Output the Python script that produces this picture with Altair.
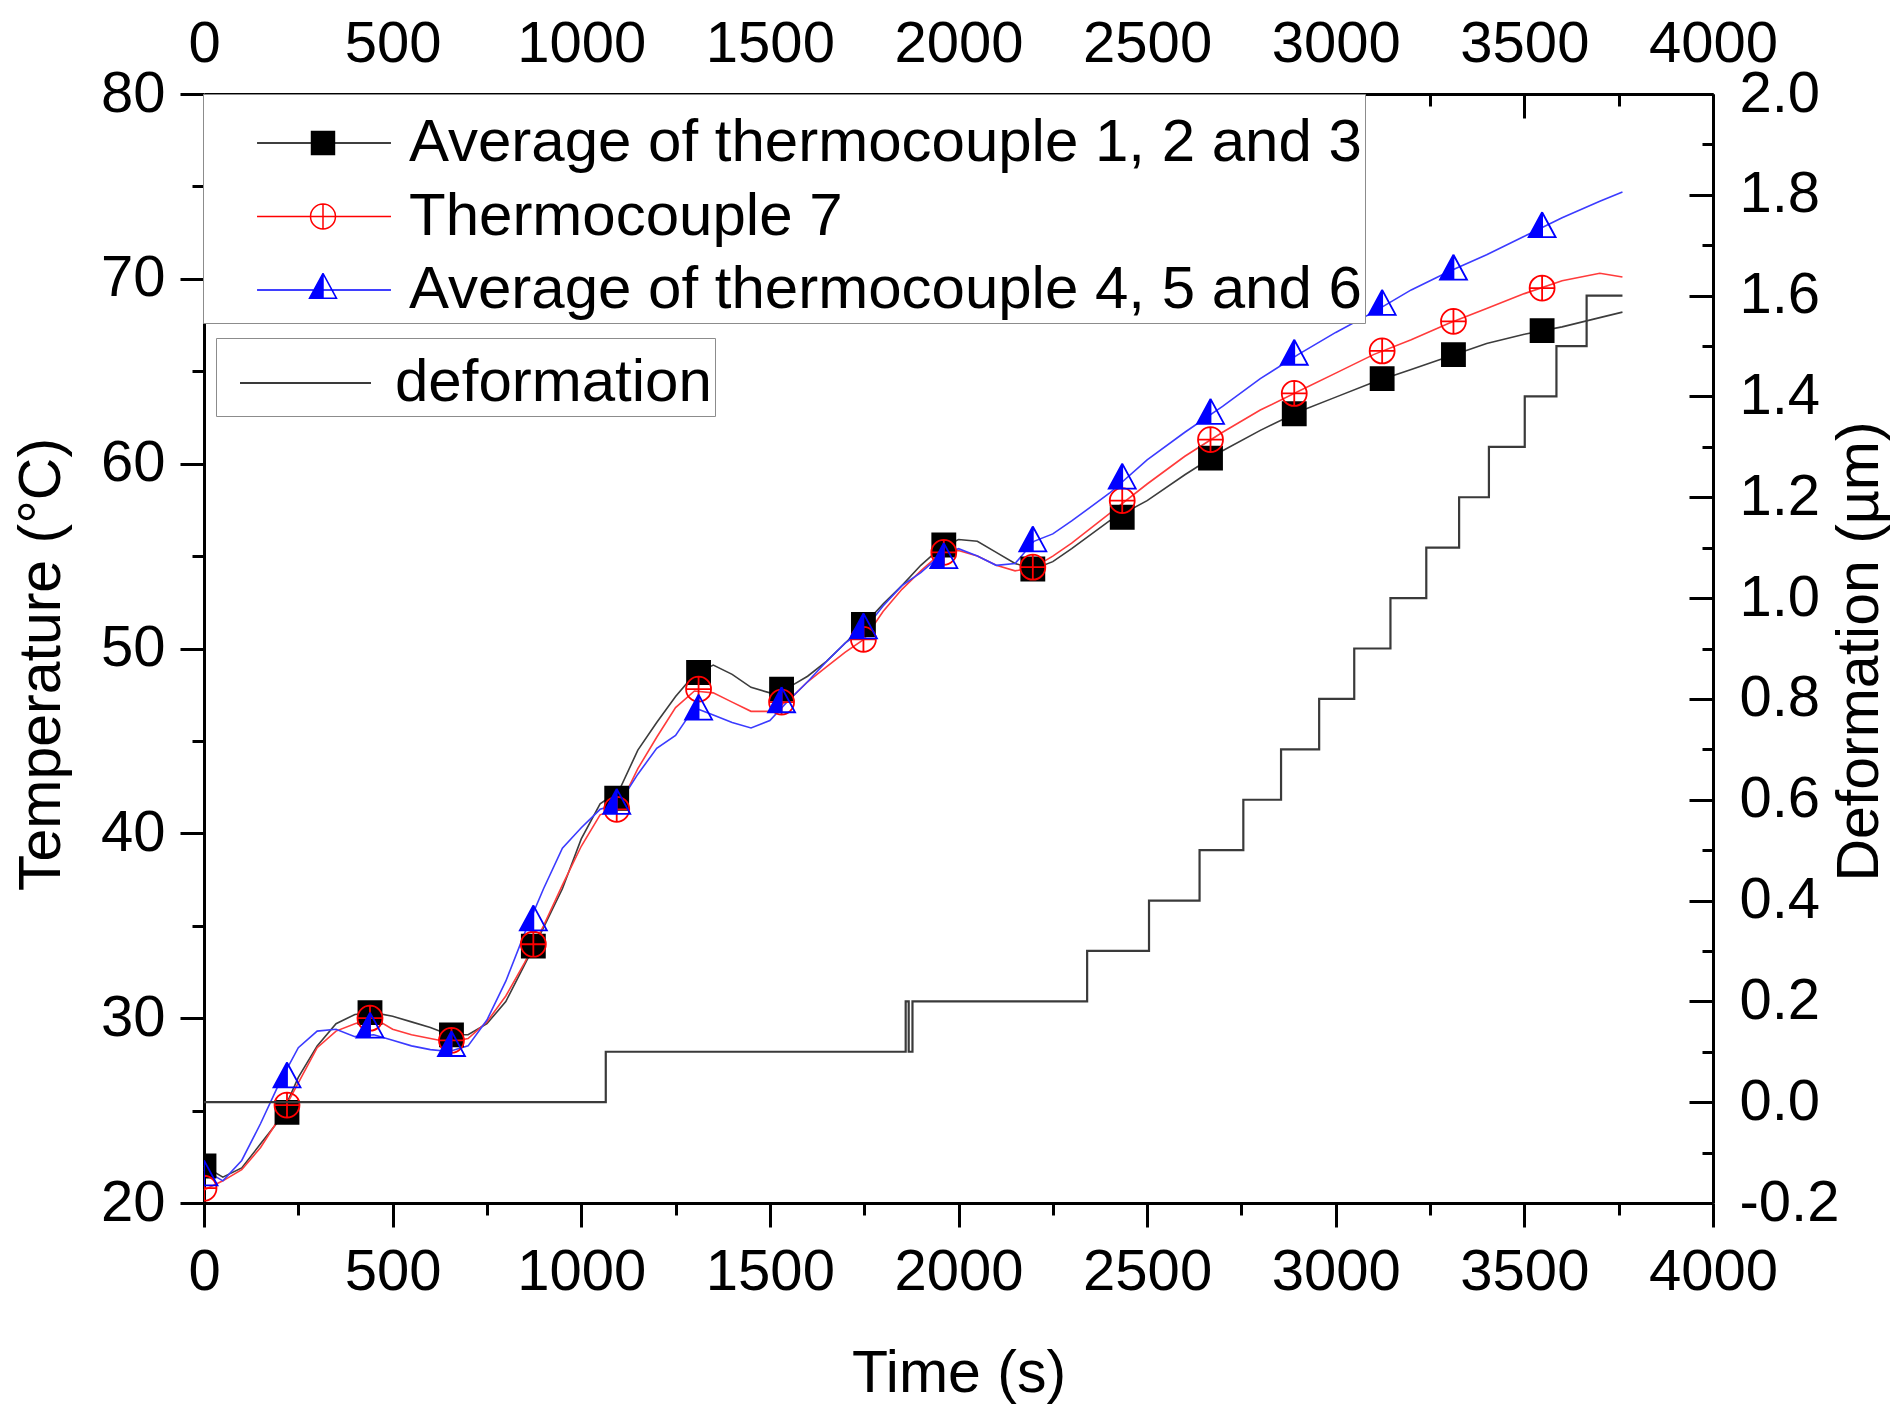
import altair as alt
import pandas as pd

# ---------------- data ----------------
S1 = "Average of thermocouple 1, 2 and 3"
S2 = "Thermocouple 7"
S3 = "Average of thermocouple 4, 5 and 6"
series_names = [S1, S2, S3]

line_time = [0, 50, 100, 150, 200, 250, 300, 350, 400, 450, 500, 550, 600, 650, 700,
             750, 800, 850, 900, 950, 1000, 1050, 1100, 1150, 1200, 1250, 1300, 1350,
             1400, 1450, 1500, 1550, 1600, 1650, 1700, 1750, 1800, 1850, 1900, 1950,
             2000, 2050, 2100, 2150, 2200, 2250, 2300, 2400, 2500, 2600, 2700, 2800,
             2900, 3000, 3100, 3200, 3300, 3400, 3500, 3600, 3700, 3760]

avg123 = [22.0, 21.4, 21.9, 23.2, 24.5, 26.8, 28.5, 29.7, 30.2, 30.3, 30.1, 29.8, 29.5,
          29.1, 29.1, 29.7, 30.9, 32.9, 34.9, 37.0, 39.7, 41.6, 42.3, 44.5, 46.0, 47.4,
          48.6, 49.1, 48.6, 47.9, 47.6, 47.9, 48.5, 49.3, 50.3, 51.3, 52.4, 53.4, 54.5,
          55.4, 55.9, 55.8, 55.2, 54.6, 54.3, 54.7, 55.4, 56.9, 58.0, 59.4, 60.7, 61.8,
          62.8, 63.6, 64.4, 65.1, 65.8, 66.5, 67.0, 67.4, 67.9, 68.2]

tc7 = [20.7, 21.2, 21.8, 23.0, 24.6, 26.5, 28.4, 29.3, 29.7, 30.0, 29.4, 29.1, 28.9,
       28.7, 28.9, 29.8, 31.2, 33.0, 35.0, 37.2, 39.3, 41.0, 41.4, 43.5, 45.2, 46.8,
       47.7, 47.6, 47.1, 46.6, 46.6, 47.2, 48.2, 49.0, 49.8, 50.5, 52.0, 53.2, 54.2,
       55.1, 55.3, 55.0, 54.5, 54.2, 54.4, 55.0, 55.7, 57.3, 58.9, 60.4, 61.7, 62.9,
       63.9, 64.9, 65.9, 66.7, 67.6, 68.4, 69.2, 69.9, 70.3, 70.1]

avg456 = [21.8, 21.2, 22.3, 24.3, 26.5, 28.4, 29.3, 29.4, 29.0, 29.1, 28.8, 28.5, 28.3,
          28.2, 28.5, 29.9, 32.0, 34.6, 37.0, 39.2, 40.3, 41.3, 41.6, 43.2, 44.6, 45.3,
          46.8, 46.4, 46.0, 45.7, 46.1, 47.2, 48.2, 49.3, 50.3, 51.0, 52.3, 53.4, 54.1,
          55.0, 55.4, 55.0, 54.5, 54.6, 55.8, 56.2, 56.9, 58.4, 60.2, 61.7, 63.1, 64.6,
          65.9, 67.1, 68.2, 69.4, 70.4, 71.3, 72.3, 73.3, 74.2, 74.7]

marker_time = [0, 220, 440, 656, 873, 1094, 1311, 1531, 1748, 1961, 2197, 2434, 2668,
               2890, 3123, 3312, 3547]
avg123_markers = [22.0, 24.9, 30.3, 29.1, 33.9, 41.9, 48.7, 47.8, 51.3, 55.6, 54.3,
                  57.1, 60.3, 62.7, 64.6, 65.9, 67.2]
tc7_markers = [20.8, 25.3, 30.0, 28.8, 34.0, 41.3, 47.8, 47.1, 50.5, 55.2, 54.4, 58.0,
               61.3, 63.8, 66.1, 67.7, 69.5]
avg456_markers = [21.4, 26.7, 29.4, 28.4, 35.2, 41.5, 46.6, 47.0, 51.0, 54.8, 55.7,
                  59.1, 62.6, 65.8, 68.5, 70.4, 72.7]

defo_time = [0, 1065, 1860, 1868, 1878, 2341, 2505, 2639, 2755, 2855, 2956, 3049, 3145,
             3240, 3327, 3406, 3501, 3585, 3665, 3760]
defo_value = [0.0, 0.1, 0.2, 0.1, 0.2, 0.3, 0.4, 0.5, 0.6, 0.7, 0.8, 0.9, 1.0, 1.1,
              1.2, 1.3, 1.4, 1.5, 1.6, 1.6]

x_major = [0, 500, 1000, 1500, 2000, 2500, 3000, 3500, 4000]
x_minor = [250, 750, 1250, 1750, 2250, 2750, 3250, 3750]
t_major = [20, 30, 40, 50, 60, 70, 80]
t_minor = [25, 35, 45, 55, 65, 75]
d_major = [-0.2, 0.0, 0.2, 0.4, 0.6, 0.8, 1.0, 1.2, 1.4, 1.6, 1.8, 2.0]
d_minor = [-0.1, 0.1, 0.3, 0.5, 0.7, 0.9, 1.1, 1.3, 1.5, 1.7, 1.9]

# ---------------- tables ----------------
lines_df = pd.concat([
    pd.DataFrame({"t": line_time, "T": vals, "series": name})
    for name, vals in [(S1, avg123), (S2, tc7), (S3, avg456)]
], ignore_index=True)

markers_df = pd.concat([
    pd.DataFrame({"t": marker_time, "T": vals, "series": name})
    for name, vals in [(S1, avg123_markers), (S2, tc7_markers), (S3, avg456_markers)]
], ignore_index=True)

defo_df = pd.DataFrame({"t": defo_time, "d": defo_value, "name": "deformation"})
empty_df = pd.DataFrame({"t": [0], "v": [0], "series": [S1]})

W, H = 1509, 1109
FONT = "Liberation Sans"

# ---------------- styling helpers ----------------
x_scale = alt.Scale(domain=[0, 4000], nice=False, zero=False)
t_scale = alt.Scale(domain=[20, 80], nice=False, zero=False)
d_scale = alt.Scale(domain=[-0.2, 2.0], nice=False, zero=False)


def tick_axis(orient, values, size, offset=0):
    return alt.Axis(orient=orient, values=values, labels=False, domain=False,
                    ticks=True, tickSize=size, tickWidth=3, tickColor="black",
                    offset=offset, grid=False, title=None)


# ---------------- temperature group ----------------
x_bottom = alt.X("t:Q", scale=x_scale, axis=alt.Axis(
    orient="bottom", values=x_major, format="d", tickSize=24, tickWidth=3,
    tickColor="black", domainWidth=3, domainColor="black", labelFontSize=58,
    labelPadding=16, labelColor="black", labelFont=FONT, labelFlush=False,
    labelOverlap=False, grid=False, title="Time (s)", titleFontSize=59,
    titleFont=FONT, titleFontWeight="normal", titleColor="black",
    titleAlign="center", titleBaseline="top", titleX=W / 2, titleY=141))

y_left = alt.Y("T:Q", scale=t_scale, axis=alt.Axis(
    orient="left", values=t_major, format="d", tickSize=24, tickWidth=3,
    tickColor="black", domainWidth=3, domainColor="black", labelFontSize=58,
    labelPadding=15, labelColor="black", labelFont=FONT, labelOverlap=False,
    grid=False, title="Temperature (°C)", titleFontSize=59, titleFont=FONT,
    titleFontWeight="normal", titleColor="black", titleAngle=270,
    titleAlign="center", titleBaseline="bottom", titleX=-133, titleY=570))

lines = alt.Chart(lines_df).mark_line(strokeWidth=1.6).encode(
    x=x_bottom, y=y_left,
    color=alt.Color("series:N", scale=alt.Scale(
        domain=series_names, range=["#3c3c3c", "#ff3b3b", "#3b3bff"]), legend=None),
)

plot_paths = [
    "M-0.96,-0.96H0.96V0.96H-0.96Z",
    "M-1.04,0A1.04,1.04,0,1,0,1.04,0A1.04,1.04,0,1,0,-1.04,0ZM0,-1.04V1.04M-1.04,0H1.04",
    "M0,-1.39L-1.125,0.69L0,0.69ZM0,-1.39L1.125,0.69L0,0.69L1.125,0.69Z",
]
fill_range = ["black", "transparent", "blue"]
stroke_range = ["black", "red", "blue"]

markers = alt.Chart(markers_df).mark_point(size=576, opacity=1, strokeWidth=1.8, clip=True).encode(
    x=x_bottom, y=y_left,
    shape=alt.Shape("series:N", scale=alt.Scale(domain=series_names, range=plot_paths), legend=None),
    fill=alt.Fill("series:N", scale=alt.Scale(domain=series_names, range=fill_range), legend=None),
    stroke=alt.Stroke("series:N", scale=alt.Scale(domain=series_names, range=stroke_range), legend=None),
)

legend_paths = [
    "M-0.459,0H0.989M0.130,-0.124H0.378V0.124H0.130Z",
    "M-0.459,0H0.989M0.119,0A0.135,0.135,0,1,0,0.389,0A0.135,0.135,0,1,0,0.119,0ZM0.254,-0.135V0.135",
    "M-0.459,0H0.989M0.254,-0.18L0.108,0.09L0.254,0.09ZM0.254,-0.18L0.4,0.09L0.254,0.09L0.4,0.09Z",
]

leg1 = alt.Legend(title=" ", titleFontSize=1, titlePadding=15, orient="none",
                  legendX=-1, legendY=0, direction="vertical", padding=3,
                  strokeColor="#8c8c8c", fillColor="white", symbolSize=185 ** 2,
                  symbolStrokeWidth=1.5, labelFontSize=60, labelFont=FONT,
                  labelColor="black", labelOffset=16, clipHeight=60, rowPadding=13.5,
                  labelLimit=2000)

legend_carrier = alt.Chart(empty_df).mark_point(opacity=1, strokeWidth=1.5).encode(
    shape=alt.Shape("series:N", scale=alt.Scale(domain=series_names, range=legend_paths), legend=leg1),
    fill=alt.Fill("series:N", scale=alt.Scale(domain=series_names, range=fill_range), legend=leg1),
    stroke=alt.Stroke("series:N", scale=alt.Scale(domain=series_names, range=stroke_range), legend=leg1),
).transform_filter("false")

temp_group = alt.layer(lines, markers, legend_carrier).resolve_scale(
    color="independent", fill="independent", stroke="independent", shape="independent")

# ---------------- deformation layer ----------------
x_top = alt.X("t:Q", scale=x_scale, axis=alt.Axis(
    orient="top", values=x_major, format="d", ticks=False, domainWidth=3,
    domainColor="black", labelFontSize=58, labelPadding=21, labelColor="black",
    labelFont=FONT, labelFlush=False, labelOverlap=False, grid=False, title=None))

y_right = alt.Y("d:Q", scale=d_scale, axis=alt.Axis(
    orient="right", values=d_major,
    labelExpr="replace(format(datum.value, '.1f'), '\u2212', '-')",
    ticks=False, domainWidth=3, domainColor="black", labelFontSize=58,
    labelPadding=26, labelColor="black", labelFont=FONT, labelOverlap=False,
    grid=False, title="Deformation (µm)", titleFontSize=59, titleFont=FONT,
    titleFontWeight="normal", titleColor="black", titleAngle=270,
    titleAlign="center", titleBaseline="top", titleX=117, titleY=557))

leg2 = alt.Legend(title=" ", titleFontSize=1, titlePadding=11, orient="none",
                  legendX=12, legendY=244, padding=3, strokeColor="#8c8c8c",
                  fillColor="white", symbolType="stroke", symbolSize=131 ** 2,
                  symbolStrokeWidth=2, symbolOffset=20, labelOffset=23,
                  labelFontSize=60, labelFont=FONT, labelColor="black",
                  clipHeight=60, labelLimit=2000)

defo = alt.Chart(defo_df).mark_line(interpolate="step-after", strokeWidth=2.2).encode(
    x=x_top, y=y_right,
    stroke=alt.Stroke("name:N", scale=alt.Scale(domain=["deformation"], range=["#3a3a3a"]), legend=leg2),
)

# ---------------- extra tick axes (minor / inward ticks) ----------------
minor_out = alt.Chart(empty_df).mark_point(opacity=0).encode(
    x=alt.X("t:Q", scale=x_scale, axis=tick_axis("bottom", x_minor, 12)),
    y=alt.Y("v:Q", scale=t_scale, axis=tick_axis("left", t_minor, 12)),
).transform_filter("false")

major_in = alt.Chart(empty_df).mark_point(opacity=0).encode(
    x=alt.X("t:Q", scale=x_scale, axis=tick_axis("bottom", x_major, 24, offset=-H)),
    y=alt.Y("v:Q", scale=d_scale, axis=tick_axis("left", d_major, 24, offset=-W)),
).transform_filter("false")

minor_in = alt.Chart(empty_df).mark_point(opacity=0).encode(
    x=alt.X("t:Q", scale=x_scale, axis=tick_axis("bottom", x_minor, 12, offset=-H)),
    y=alt.Y("v:Q", scale=d_scale, axis=tick_axis("left", d_minor, 11, offset=-W)),
).transform_filter("false")

chart = alt.layer(temp_group, defo, minor_out, major_in, minor_in).resolve_scale(
    x="independent", y="independent", color="independent", fill="independent",
    stroke="independent", shape="independent",
).properties(
    width=W, height=H,
    padding={"left": 4, "top": 7, "right": 5, "bottom": 5},
    background="white",
).configure(font=FONT).configure_view(stroke=None)

chart.save("out.html", embed_options={"renderer": "svg", "actions": False})
